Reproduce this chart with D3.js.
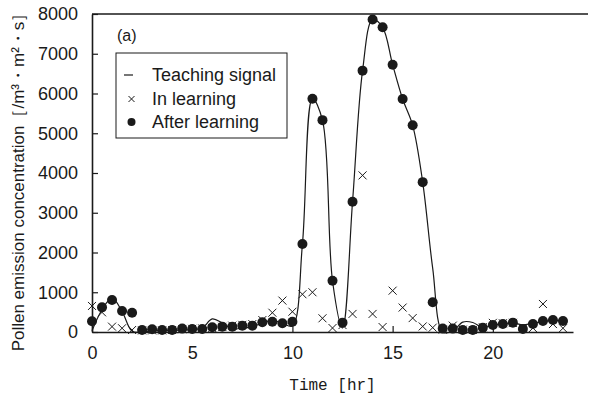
<!DOCTYPE html>
<html>
<head>
<meta charset="utf-8">
<script src="https://cdn.jsdelivr.net/npm/d3@7"></script>
<style>
  html, body { margin: 0; padding: 0; background: #fff; }
  svg { display: block; }
  text { fill: #1a1a1a; }
</style>
</head>
<body>
<script>
// Sampling times, every half hour over one day
const hours = d3.range(0, 24, 0.5);

// Teaching signal (measured pollen emission)
const teaching = [30, 560, 850, 520, 20, 0, 30, 40, 40, 50, 60, 100,
                  330, 230, 80, 100, 130, 230, 290, 220, 150, 2215, 5870, 5330,
                  1290, 100, 3275, 6575, 7860, 7665, 6725, 5860, 5200, 3770, 1600, 0,
                  20, 250, 240, 110, 175, 200, 230, 180, 220, 260, 290, 280];

// Network output during learning
const inLearning = [655, 495, 135, 95, 50, 40, 40, 40, 50, 70, 80, 90,
                    100, 130, 160, 180, 200, 300, 485, 790, 510, 950, 1000, 345,
                    100, 175, 455, 3940, 455, 125, 1040, 615, 350, 140, 110, 60,
                    160, 60, 50, 120, 230, 220, 230, 80, 100, 705, 200, 95];

// Network output after learning
const afterLearning = [270, 620, 805, 530, 486, 50, 68, 50, 50, 85, 75, 75,
                       120, 135, 135, 160, 160, 245, 260, 220, 260, 2215, 5870, 5330,
                       1290, 235, 3275, 6575, 7860, 7665, 6725, 5860, 5200, 3770, 750, 85,
                       85, 50, 50, 110, 175, 200, 235, 75, 200, 275, 300, 275];

const xTicks = [0, 5, 10, 15, 20];
const yTicks = [0, 1000, 2000, 3000, 4000, 5000, 6000, 7000, 8000];
const legendLabels = ["Teaching signal", "In learning", "After learning"];

const W = 589, H = 403;
const plotLeft = 92, plotRight = 573, plotTop = 14, plotBottom = 332;

const svg = d3.select("body").append("svg")
  .attr("width", W).attr("height", H);

const x = d3.scaleLinear().domain([0, 24]).range([plotLeft, plotRight]);
const y = d3.scaleLinear().domain([0, 8000]).range([plotBottom, plotTop]);

const ink = "#1a1a1a";
const sans = "'Liberation Sans', Arial, sans-serif";

// Axes with inward ticks
const gx = svg.append("g").attr("transform", `translate(0,${plotBottom})`)
  .call(d3.axisBottom(x).tickValues(xTicks).tickFormat(d3.format("d"))
    .tickSizeInner(-6).tickSizeOuter(0).tickPadding(14));
const gy = svg.append("g").attr("transform", `translate(${plotLeft},0)`)
  .call(d3.axisLeft(y).tickValues(yTicks).tickFormat(d3.format("d"))
    .tickSizeInner(-6).tickSizeOuter(0).tickPadding(14));

[gx, gy].forEach(g => {
  g.select(".domain").attr("stroke", ink).attr("stroke-width", 1.6);
  g.selectAll(".tick line").attr("stroke", ink).attr("stroke-width", 1.2);
  g.selectAll(".tick text").attr("font-family", sans).attr("font-size", 18).attr("fill", ink);
});

// Top frame line
svg.append("line")
  .attr("x1", plotLeft).attr("x2", 588).attr("y1", plotTop).attr("y2", plotTop)
  .attr("stroke", ink).attr("stroke-width", 1.6);

// Teaching signal as a smooth curve
const line = d3.line()
  .x((d, i) => x(hours[i]))
  .y(d => y(d))
  .curve(d3.curveCatmullRom.alpha(0.5));
svg.append("path")
  .datum(teaching)
  .attr("d", line)
  .attr("fill", "none")
  .attr("stroke", ink)
  .attr("stroke-width", 1.2);

// In-learning output as crosses
const crossPath = (cx, cy, s) => `M${cx - s},${cy - s}L${cx + s},${cy + s}M${cx - s},${cy + s}L${cx + s},${cy - s}`;
svg.append("g").selectAll("path")
  .data(inLearning)
  .join("path")
  .attr("d", (d, i) => crossPath(x(hours[i]), y(d), 4))
  .attr("stroke", ink)
  .attr("stroke-width", 1)
  .attr("fill", "none");

// After-learning output as filled dots
svg.append("g").selectAll("circle")
  .data(afterLearning)
  .join("circle")
  .attr("cx", (d, i) => x(hours[i]))
  .attr("cy", d => y(d))
  .attr("r", 5)
  .attr("fill", ink);

// Panel label
svg.append("text")
  .attr("x", 117).attr("y", 41)
  .attr("font-family", sans).attr("font-size", 16)
  .text("(a)");

// Legend
const lg = svg.append("g");
lg.append("rect")
  .attr("x", 116).attr("y", 53).attr("width", 171).attr("height", 85)
  .attr("fill", "#fff").attr("stroke", ink).attr("stroke-width", 1);
const rows = [75, 99, 122];
lg.append("line").attr("x1", 124).attr("x2", 133).attr("y1", rows[0]).attr("y2", rows[0])
  .attr("stroke", ink).attr("stroke-width", 1.2);
lg.append("path").attr("d", crossPath(131.5, rows[1], 3))
  .attr("stroke", ink).attr("stroke-width", 1).attr("fill", "none");
lg.append("circle").attr("cx", 131.5).attr("cy", rows[2]).attr("r", 4).attr("fill", ink);
lg.selectAll("text.lab")
  .data(legendLabels)
  .join("text")
  .attr("class", "lab")
  .attr("x", 152)
  .attr("y", (d, i) => rows[i] + 6)
  .attr("font-family", sans).attr("font-size", 18)
  .text(d => d);

// Axis titles
svg.append("text")
  .attr("x", (plotLeft + plotRight) / 2).attr("y", 390)
  .attr("text-anchor", "middle")
  .attr("font-family", "'Liberation Mono', 'DejaVu Sans Mono', monospace")
  .attr("font-size", 16)
  .text("Time [hr]");

svg.append("text")
  .attr("transform", `translate(24,178) rotate(-90)`)
  .attr("text-anchor", "middle")
  .attr("font-family", sans)
  .attr("font-size", 17)
  .text("Pollen emission concentration［/m³・m²・s］");
</script>
</body>
</html>
